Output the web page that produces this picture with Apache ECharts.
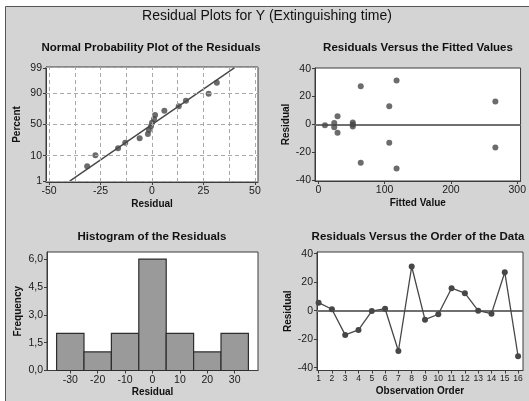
<!DOCTYPE html>
<html>
<head>
<meta charset="utf-8">
<script src="https://cdn.jsdelivr.net/npm/echarts@6/dist/echarts.min.js"></script>
<style>
  html, body { margin: 0; padding: 0; background: #fff; }
  #chart { width: 529px; height: 401px; }
</style>
</head>
<body>
<div id="chart"></div>
<script>
// --- data ---
// normal probability plot (sorted residuals / plotted percent)
const probResid = [-31.5, -27.5, -16.5, -13, -6, -2, -1.5, -0.5, 0, 1, 1.5, 6, 13, 16.5, 27.5, 31.5];
const probPct = [4.3, 10.4, 16.5, 22.6, 28.7, 34.8, 40.9, 47.0, 53.0, 59.1, 65.2, 71.3, 77.4, 83.5, 89.6, 95.7];
const fitLineResid = [-40, 40];
const fitLinePct = [1, 99];
const probXTicks = [-50, -25, 0, 25, 50];
const probXGrid = [-50, -37.5, -25, -12.5, 0, 12.5, 25, 37.5, 50];
const probPctTicks = [1, 10, 50, 90, 99];

// residuals vs fitted
const fittedVals = [10, 24, 24, 29, 29, 52, 52, 52, 64, 64, 107, 107, 118, 118, 267, 267];
const fittedResid = [-0.5, 1, -2, 6, -6, 1.5, 0, -1.5, 27.5, -27.5, 13, -13, 31.5, -31.5, 16.5, -16.5];
const fittedXTicks = [0, 100, 200, 300];
const residTicks = [-40, -20, 0, 20, 40];

// histogram
const binLo = [-35, -25, -15, -5, 5, 15, 25];
const binHi = [-25, -15, -5, 5, 15, 25, 35];
const binFreq = [2, 1, 2, 6, 2, 1, 2];
const histXTicks = [-30, -20, -10, 0, 10, 20, 30];
const histYTicks = [0, 1.5, 3, 4.5, 6];

// residuals vs order
const obsOrder = [1, 2, 3, 4, 5, 6, 7, 8, 9, 10, 11, 12, 13, 14, 15, 16];
const orderResid = [5.6, 1.0, -17.0, -13.5, -0.3, 1.4, -28.3, 31.0, -6.3, -2.5, 15.8, 12.3, 0.0, -2.1, 27.0, -32.0];

// inverse normal cdf (probability scale of Minitab's normal plot)
function probit(p) {
  const a = [-3.969683028665376e+01, 2.209460984245205e+02, -2.759285104469687e+02, 1.383577518672690e+02, -3.066479806614716e+01, 2.506628277459239e+00];
  const b = [-5.447609879822406e+01, 1.615858368580409e+02, -1.556989798598866e+02, 6.680131188771972e+01, -1.328068155288572e+01];
  const c = [-7.784894002430293e-03, -3.223964580411365e-01, -2.400758277161838e+00, -2.549732539343734e+00, 4.374664141464968e+00, 2.938163982698783e+00];
  const d = [7.784695709041462e-03, 3.224671290700398e-01, 2.445134137142996e+00, 3.754408661907416e+00];
  const pl = 0.02425;
  if (p < pl) {
    const q = Math.sqrt(-2 * Math.log(p));
    return (((((c[0] * q + c[1]) * q + c[2]) * q + c[3]) * q + c[4]) * q + c[5]) / ((((d[0] * q + d[1]) * q + d[2]) * q + d[3]) * q + 1);
  }
  if (p > 1 - pl) {
    const q = Math.sqrt(-2 * Math.log(1 - p));
    return -(((((c[0] * q + c[1]) * q + c[2]) * q + c[3]) * q + c[4]) * q + c[5]) / ((((d[0] * q + d[1]) * q + d[2]) * q + d[3]) * q + 1);
  }
  const q = p - 0.5, r = q * q;
  return (((((a[0] * r + a[1]) * r + a[2]) * r + a[3]) * r + a[4]) * r + a[5]) * q / (((((b[0] * r + b[1]) * r + b[2]) * r + b[3]) * r + b[4]) * r + 1);
}
const z = (pct) => probit(pct / 100);

// --- styles ---
const FONT = "Liberation Sans, Arial, sans-serif";
const DARK = "#474747";
const FRAME = "#3c3c3c";

const labelStyle = (size) => ({ fontFamily: FONT, fontSize: size || 10.5, color: "#1a1a1a", margin: 4 });
const nameStyle = { fontFamily: FONT, fontSize: 10, fontWeight: "bold", color: "#111" };

function axis(opts) {
  return Object.assign({
    type: "value",
    axisLine: { show: true, onZero: false, lineStyle: { color: FRAME, width: 1 } },
    axisTick: { show: true, length: 3, lineStyle: { color: FRAME } },
    splitLine: { show: false },
    nameLocation: "middle",
    nameTextStyle: nameStyle,
  }, opts);
}

const panelTitle = (text, left, top) => ({
  text, left, top, textAlign: "center", padding: 0,
  textStyle: { fontFamily: FONT, fontSize: 11.5, fontWeight: "bold", color: "#111" },
});

const dashed = { color: "#a9a9a9", type: [4, 3], width: 1 };
const refLine = { color: "#707070", width: 2, type: "solid" };

const option = {
  animation: false,
  backgroundColor: "#fff",
  graphic: {
    elements: [
      { type: "rect", z: -100, shape: { x: 5.5, y: 6.5, width: 540, height: 410 },
        style: { fill: "#d4d4d4", stroke: "#555", lineWidth: 1 } },
    ],
  },
  title: [
    { text: "Residual Plots for Y (Extinguishing time)", left: 267, top: 9, textAlign: "center", padding: 0,
      textStyle: { fontFamily: FONT, fontSize: 14, fontWeight: "normal", color: "#111" } },
    panelTitle("Normal Probability Plot of the Residuals", 151, 42),
    panelTitle("Residuals Versus the Fitted Values", 418, 42),
    panelTitle("Histogram of the Residuals", 152, 231),
    panelTitle("Residuals Versus the Order of the Data", 418, 231),
  ],
  grid: [
    { left: 46, top: 67, width: 212, height: 115 },
    { left: 315, top: 68, width: 208, height: 113 },
    { left: 47, top: 252, width: 211, height: 118.5 },
    { left: 317, top: 252, width: 206, height: 118.5 },
  ].map((g) => Object.assign({ show: true, backgroundColor: "#fff", borderColor: FRAME, borderWidth: 1 }, g)),
  xAxis: [
    axis({ gridIndex: 0, min: -51.5, max: 51.5, name: "Residual", nameGap: 17,
      axisTick: { show: true, length: 3, lineStyle: { color: FRAME }, customValues: probXTicks },
      axisLabel: Object.assign(labelStyle(), { customValues: probXTicks }) }),
    axis({ gridIndex: 1, min: -5, max: 305, name: "Fitted Value", nameGap: 17,
      axisTick: { show: true, length: 3, lineStyle: { color: FRAME }, customValues: fittedXTicks },
      axisLabel: Object.assign(labelStyle(), { customValues: fittedXTicks }) }),
    axis({ gridIndex: 2, min: -38.5, max: 38.5, name: "Residual", nameGap: 17,
      axisTick: { show: true, length: 3, lineStyle: { color: FRAME }, customValues: histXTicks },
      axisLabel: Object.assign(labelStyle(), { customValues: histXTicks }) }),
    axis({ gridIndex: 3, min: 0.88, max: 16.37, name: "Observation Order", nameGap: 16,
      axisTick: { show: true, length: 3, lineStyle: { color: FRAME }, customValues: obsOrder },
      axisLabel: Object.assign(labelStyle(8.5), { customValues: obsOrder, margin: 4 }) }),
  ],
  yAxis: [
    axis({ gridIndex: 0, min: -2.36, max: 2.36, name: "Percent", nameGap: 24,
      axisTick: { show: true, length: 3, lineStyle: { color: FRAME }, customValues: probPctTicks.map(z) },
      axisLabel: Object.assign(labelStyle(), { customValues: probPctTicks.map(z),
        formatter: (v) => String(probPctTicks.find((p) => Math.abs(z(p) - v) < 1e-6)) }) }),
    axis({ gridIndex: 1, min: -40.5, max: 40.5, name: "Residual", nameGap: 24,
      axisTick: { show: true, length: 3, lineStyle: { color: FRAME }, customValues: residTicks },
      axisLabel: Object.assign(labelStyle(), { customValues: residTicks }) }),
    axis({ gridIndex: 2, min: 0, max: 6.38, name: "Frequency", nameGap: 24,
      axisTick: { show: true, length: 3, lineStyle: { color: FRAME }, customValues: histYTicks },
      axisLabel: Object.assign(labelStyle(), { customValues: histYTicks,
        formatter: (v) => v.toFixed(1).replace(".", ",") }) }),
    axis({ gridIndex: 3, min: -42, max: 41.2, name: "Residual", nameGap: 24,
      axisTick: { show: true, length: 3, lineStyle: { color: FRAME }, customValues: residTicks },
      axisLabel: Object.assign(labelStyle(), { customValues: residTicks }) }),
  ],
  series: [
    // dashed grid of the probability plot
    {
      type: "line", xAxisIndex: 0, yAxisIndex: 0, data: [], z: 1, silent: true,
      markLine: {
        silent: true, symbol: "none", label: { show: false }, lineStyle: dashed,
        data: probXGrid.map((v) => ({ xAxis: v })).concat(probPctTicks.map((p) => ({ yAxis: z(p) }))),
      },
    },
    {
      type: "line", xAxisIndex: 0, yAxisIndex: 0, z: 3, silent: true, symbol: "none",
      lineStyle: { color: DARK, width: 1.4 },
      data: fitLineResid.map((r, i) => [r, z(fitLinePct[i])]),
    },
    {
      type: "scatter", xAxisIndex: 0, yAxisIndex: 0, z: 4, symbolSize: 6,
      itemStyle: { color: DARK },
      data: probResid.map((r, i) => [r, z(probPct[i])]),
    },
    // residuals vs fitted
    {
      type: "scatter", xAxisIndex: 1, yAxisIndex: 1, z: 4, symbolSize: 6,
      itemStyle: { color: DARK },
      data: fittedVals.map((f, i) => [f, fittedResid[i]]),
      markLine: { silent: true, symbol: "none", label: { show: false }, lineStyle: refLine, z: 2, data: [{ yAxis: 0 }] },
    },
    // histogram
    {
      type: "custom", xAxisIndex: 2, yAxisIndex: 2, z: 3,
      data: binFreq.map((f, i) => [binLo[i], binHi[i], f]),
      encode: { x: [0, 1], y: 2 },
      renderItem: (params, api) => {
        const p0 = api.coord([api.value(0), 0]);
        const p1 = api.coord([api.value(1), api.value(2)]);
        return {
          type: "rect",
          shape: { x: p0[0], y: p1[1], width: p1[0] - p0[0], height: p0[1] - p1[1] },
          style: { fill: "#9a9a9a", stroke: "#2e2e2e", lineWidth: 1.2 },
        };
      },
    },
    // residuals vs order
    {
      type: "line", xAxisIndex: 3, yAxisIndex: 3, z: 4, symbol: "circle", symbolSize: 6,
      lineStyle: { color: DARK, width: 1.3 }, itemStyle: { color: DARK },
      data: obsOrder.map((o, i) => [o, orderResid[i]]),
      markLine: { silent: true, symbol: "none", label: { show: false }, lineStyle: refLine, z: 2, data: [{ yAxis: 0 }] },
    },
  ],
};

const chart = echarts.init(document.getElementById("chart"), null, { renderer: "canvas" });
chart.setOption(option);
</script>
</body>
</html>
